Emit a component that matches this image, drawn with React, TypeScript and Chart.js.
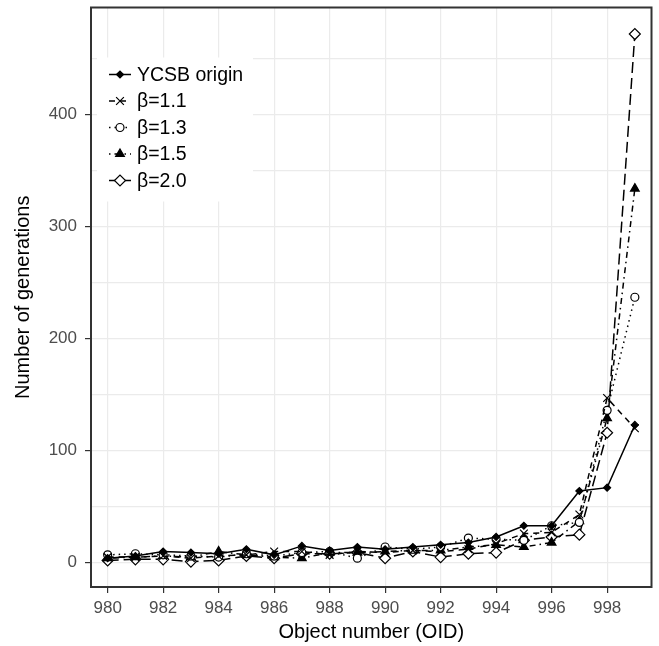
import React, { useEffect, useRef } from 'react';
import { Chart, registerables } from 'chart.js';
import { drawPoint } from 'chart.js/helpers';

Chart.register(...registerables);

const oids = [980, 981, 982, 983, 984, 985, 986, 987, 988, 989, 990, 991, 992, 993, 994, 995, 996, 997, 998, 999];
const ycsbOrigin = [4, 6, 10, 9, 8, 12, 7, 15, 11, 14, 12, 14, 16, 18, 23, 33, 33, 64, 67, 123];
const beta11 = [5, 5, 6, 4, 6, 7, 10, 10, 7, 10, 9, 11, 10, 12, 17, 26, 27, 43, 147, 120];
const beta13 = [7, 8, 7, 6, 5, 8, 6, 9, 10, 4, 14, 12, 14, 22, 21, 20, 33, 36, 136, 237];
const beta15 = [4, 5, 6, 5, 10, 7, 5, 4, 9, 9, 10, 11, 11, 14, 16, 14, 18, 37, 129, 334];
const beta20 = [2, 3, 3, 1, 2, 6, 4, 8, 8, 9, 4, 10, 5, 8, 9, 20, 23, 25, 116, 472];

const seriesNames = ['YCSB origin', 'β=1.1', 'β=1.3', 'β=1.5', 'β=2.0'];
const seriesValues = [ycsbOrigin, beta11, beta13, beta15, beta20];

const xTicks = [980, 982, 984, 986, 988, 990, 992, 994, 996, 998];
const yGridTicks = [0, 50, 100, 150, 200, 250, 300, 350, 400, 450];
const yLabelTicks = [0, 100, 200, 300, 400];

const FONT = '"Liberation Sans", Arial, Helvetica, sans-serif';

const styles = [
  { dash: [] as number[], pointStyle: 'rectRot', radius: 3.5, fill: '#000000' },
  { dash: [6, 5], pointStyle: 'crossRot', radius: 5.5, fill: '#000000' },
  { dash: [1.5, 4], pointStyle: 'circle', radius: 4, fill: '#ffffff' },
  { dash: [1.5, 4, 6, 4], pointStyle: 'triangle', radius: 5, fill: '#000000' },
  { dash: [11, 5], pointStyle: 'rectRot', radius: 5.5, fill: '#ffffff' },
];

const legendPlugin = {
  id: 'ggLegend',
  afterDatasetsDraw(chart: any) {
    const { ctx, chartArea } = chart;
    const left = chartArea.left + 6;
    const top = chartArea.top + 50;
    ctx.save();
    ctx.fillStyle = '#ffffff';
    ctx.fillRect(left, top, 156, 144);
    seriesNames.forEach((name, i) => {
      const st = styles[i];
      const y = top + 17 + i * 26.5;
      ctx.strokeStyle = '#000000';
      ctx.lineWidth = 1.5;
      ctx.setLineDash(st.dash);
      ctx.beginPath();
      ctx.moveTo(left + 12, y);
      ctx.lineTo(left + 34, y);
      ctx.stroke();
      ctx.setLineDash([]);
      ctx.fillStyle = st.fill;
      ctx.strokeStyle = '#000000';
      ctx.lineWidth = 1.2;
      drawPoint(ctx, { pointStyle: st.pointStyle, radius: st.radius, rotation: 0, borderWidth: 1.2 } as any, left + 23, y);
      ctx.fillStyle = '#000000';
      ctx.font = '19.5px ' + FONT;
      ctx.textBaseline = 'middle';
      ctx.textAlign = 'left';
      ctx.fillText(name, left + 40, y + 1);
    });
    ctx.restore();
  },
  afterDraw(chart: any) {
    const { ctx, chartArea } = chart;
    ctx.save();
    ctx.strokeStyle = '#333333';
    ctx.lineWidth = 2;
    ctx.strokeRect(chartArea.left, chartArea.top, chartArea.right - chartArea.left, chartArea.bottom - chartArea.top);
    ctx.restore();
  },
};

export default function App() {
  const ref = useRef<HTMLCanvasElement | null>(null);
  useEffect(() => {
    if (!ref.current) return;
    const datasets = seriesNames.map((name, i) => ({
      label: name,
      data: oids.map((x, j) => ({ x, y: seriesValues[i][j] })),
      borderColor: '#000000',
      borderWidth: 1.5,
      borderDash: styles[i].dash,
      pointStyle: styles[i].pointStyle,
      pointRadius: styles[i].radius,
      pointBackgroundColor: styles[i].fill,
      pointBorderColor: '#000000',
      pointBorderWidth: 1.2,
      tension: 0,
      fill: false,
    }));
    const chart = new Chart(ref.current, {
      type: 'line',
      data: { datasets },
      options: {
        animation: false,
        responsive: false,
        layout: { padding: { left: 0, top: 7.5, right: 7.5, bottom: 0 } },
        plugins: { legend: { display: false }, tooltip: { enabled: false } },
        scales: {
          x: {
            type: 'linear',
            min: 979.4,
            max: 999.6,
            afterBuildTicks: (scale: any) => {
              scale.ticks = xTicks.map((v) => ({ value: v }));
            },
            afterFit: (scale: any) => {
              scale.height = 59;
              scale.paddingLeft = 0;
              scale.paddingRight = 0;
            },
            border: { display: false },
            grid: { color: '#ebebeb', lineWidth: 1.2, tickColor: '#333333', tickLength: 6, tickWidth: 1.2 },
            ticks: {
              color: '#4d4d4d',
              font: { family: FONT, size: 17 },
              padding: 5,
              maxRotation: 0,
              autoSkip: false,
              callback: (v: any) => String(v),
            },
            title: {
              display: true,
              text: 'Object number (OID)',
              color: '#000000',
              font: { family: FONT, size: 20 },
              padding: { top: 0, bottom: 1.5 },
            },
          },
          y: {
            type: 'linear',
            min: -21.7,
            max: 495.7,
            afterBuildTicks: (scale: any) => {
              scale.ticks = yGridTicks.map((v) => ({ value: v }));
            },
            afterFit: (scale: any) => {
              scale.width = 91;
              scale.paddingTop = 0;
              scale.paddingBottom = 0;
            },
            border: { display: false },
            grid: {
              color: '#ebebeb',
              lineWidth: 1.2,
              tickLength: 6,
              tickWidth: 1.2,
              tickColor: (c: any) => (c.tick && yLabelTicks.includes(c.tick.value) ? '#333333' : 'rgba(0,0,0,0)'),
            },
            ticks: {
              color: '#4d4d4d',
              font: { family: FONT, size: 17 },
              padding: 8,
              autoSkip: false,
              callback: (v: any) => (yLabelTicks.includes(Number(v)) ? String(v) : ''),
            },
            title: {
              display: true,
              text: 'Number of generations',
              color: '#000000',
              font: { family: FONT, size: 20 },
              padding: { top: 11, bottom: 0 },
            },
          },
        },
      },
      plugins: [legendPlugin],
    } as any);
    return () => chart.destroy();
  }, []);
  return (
    <div style={{ position: 'absolute', left: 0, top: 0, width: 659, height: 646, background: '#ffffff' }}>
      <canvas ref={ref} width={659} height={646} style={{ display: 'block', width: 659, height: 646 }} />
    </div>
  );
}
